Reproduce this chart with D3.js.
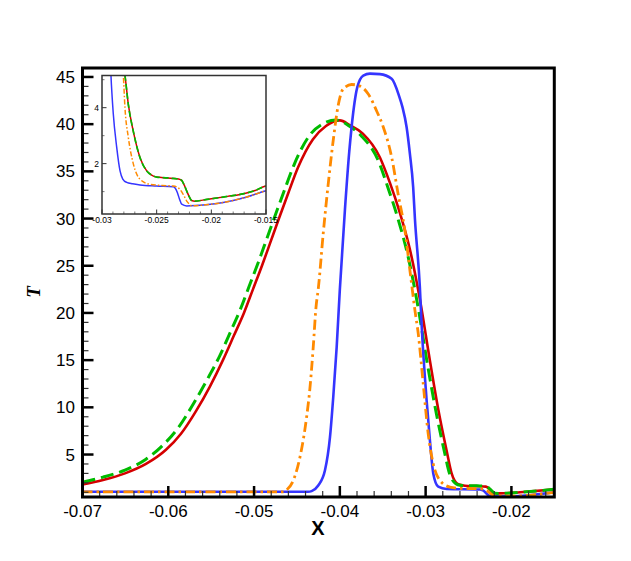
<!DOCTYPE html>
<html><head><meta charset="utf-8">
<script src="https://cdn.jsdelivr.net/npm/d3@7"></script>
<style>body{margin:0;background:#fff}</style></head>
<body><svg id="c" width="631" height="561"></svg>
<script>
// ---------- main plot data ----------
const redX = [-0.07,-0.06761,-0.06505,-0.0626,-0.06027,-0.05852,-0.05677,-0.05515,-0.05363,-0.05235,-0.05118,-0.05013,-0.04908,-0.04809,-0.0471,-0.04605,-0.04488,-0.04313,-0.04162,-0.04,-0.03883,-0.03732,-0.03534,-0.03417,-0.033,-0.03185,-0.03068,-0.02951,-0.02853,-0.02755,-0.02697,-0.0262,-0.02542,-0.02405,-0.02297,-0.0225,-0.02204,-0.02134,-0.019,-0.015];
const redT = [1.83,2.3,3.0,4.0,5.5,7.2,9.6,12.2,15.0,17.6,20.0,22.5,25.0,27.5,30.0,32.6,35.4,38.4,39.8,40.4,39.9,39.0,36.5,33.8,30.6,26.8,21.5,15.0,9.8,5.4,3.0,1.85,1.7,1.65,1.6,1.3,0.9,0.88,1.0,1.32];

const greenX = [-0.07,-0.06761,-0.06505,-0.0626,-0.06062,-0.05887,-0.05712,-0.05555,-0.05403,-0.05275,-0.05159,-0.05054,-0.04949,-0.0485,-0.04751,-0.04646,-0.04529,-0.04354,-0.04185,-0.04045,-0.03906,-0.03754,-0.03555,-0.0344,-0.03323,-0.03205,-0.03088,-0.02972,-0.02874,-0.02781,-0.02722,-0.02647,-0.02601,-0.02405,-0.0229,-0.02245,-0.02192,-0.02134,-0.019,-0.015];
const greenT = [2.07,2.6,3.35,4.5,6.0,7.8,10.3,12.8,15.4,18.0,20.4,22.9,25.4,27.9,30.4,33.0,35.8,38.8,40.1,40.45,39.9,38.8,36.2,33.3,30.0,26.0,20.6,14.2,9.3,5.3,3.0,1.9,1.75,1.68,1.62,1.3,0.9,0.88,1.0,1.32];

const blueX = [-0.07,-0.0437,-0.04329,-0.04252,-0.04174,-0.04115,-0.04077,-0.04037,-0.04,-0.03941,-0.03891,-0.03863,-0.03797,-0.03727,-0.03649,-0.03533,-0.03396,-0.0331,-0.0327,-0.03222,-0.03184,-0.03145,-0.03125,-0.03067,-0.03047,-0.02988,-0.0295,-0.02911,-0.02853,-0.02755,-0.02366,-0.02332,-0.0225,-0.02134,-0.01959,-0.015];
const blueT = [1.05,1.05,1.12,1.72,3.3,6.84,11.07,16.37,22.5,30.9,37.0,39.7,43.9,45.15,45.35,45.3,44.8,43.0,41.8,39.7,36.9,33.3,30.0,22.7,18.8,10.7,6.5,3.0,1.6,1.35,1.3,1.2,0.6,0.55,0.58,1.0];

const orangeX = [-0.07,-0.0466,-0.0462,-0.04543,-0.04465,-0.04387,-0.04349,-0.0431,-0.04278,-0.04252,-0.04194,-0.04135,-0.04077,-0.04019,-0.0396,-0.03863,-0.03786,-0.03669,-0.03571,-0.03494,-0.03396,-0.03319,-0.03241,-0.03183,-0.03125,-0.03086,-0.03028,-0.0297,-0.02911,-0.02833,-0.02717,-0.026,-0.02366,-0.02289,-0.02227,-0.0218,-0.0196,-0.015];
const orangeT = [1.05,1.05,1.25,2.25,4.72,9.0,12.0,16.4,20.6,22.5,28.4,33.7,38.3,42.0,43.75,44.2,44.1,43.2,41.4,39.7,36.5,32.5,28.7,24.5,20.3,17.8,12.5,7.2,4.0,2.25,1.55,1.42,1.38,1.2,0.75,0.6,0.6,1.0];

// ---------- inset data ----------
const insRedX = [-0.0282,-0.0279,-0.02759,-0.02714,-0.02652,-0.02591,-0.0255,-0.025,-0.024,-0.02348,-0.023,-0.02271,-0.0225,-0.02225,-0.022,-0.0218,-0.0215,-0.02042,-0.0185,-0.01738,-0.016,-0.01509,-0.015];
const insRedT = [5.8,5.15,4.11,3.16,2.21,1.74,1.6,1.52,1.49,1.47,1.45,1.40,1.25,1.02,0.8,0.68,0.66,0.72,0.83,0.90,1.04,1.19,1.2];
const insGreenX = [-0.0282,-0.0279,-0.02759,-0.02714,-0.02652,-0.02591,-0.0255,-0.025,-0.024,-0.02348,-0.023,-0.02271,-0.0225,-0.02225,-0.022,-0.0218,-0.0215,-0.02042,-0.0185,-0.01738,-0.016,-0.01509,-0.015];
const insGreenT = [5.8,5.15,4.11,3.16,2.21,1.74,1.6,1.52,1.49,1.47,1.45,1.40,1.25,1.02,0.8,0.68,0.66,0.72,0.83,0.90,1.04,1.19,1.2];
const insBlueX = [-0.02925,-0.02918,-0.02897,-0.02866,-0.02835,-0.0281,-0.02774,-0.0272,-0.02652,-0.025,-0.02348,-0.0233,-0.02311,-0.0229,-0.02271,-0.02225,-0.0205,-0.01891,-0.017,-0.01509,-0.015];
const insBlueT = [5.8,5.15,3.79,2.6,1.74,1.45,1.33,1.28,1.24,1.2,1.17,1.12,0.97,0.72,0.55,0.49,0.53,0.61,0.78,1.02,1.03];
const insOrangeX = [-0.0282,-0.02805,-0.0279,-0.02759,-0.02714,-0.02652,-0.02561,-0.0245,-0.02348,-0.0231,-0.02287,-0.0225,-0.02225,-0.022,-0.0218,-0.0205,-0.01891,-0.017,-0.01509,-0.015];
const insOrangeT = [5.8,5.15,4.0,2.93,2.0,1.44,1.26,1.22,1.2,1.15,1.08,0.85,0.66,0.55,0.49,0.53,0.61,0.78,1.02,1.03];

// ---------- ticks ----------
const xTicks = [-0.07,-0.06,-0.05,-0.04,-0.03,-0.02];
const xTickLabels = ["-0.07","-0.06","-0.05","-0.04","-0.03","-0.02"];
const yTicks = [5,10,15,20,25,30,35,40,45];
const insXTicks = [-0.03,-0.025,-0.02,-0.015];
const insXTickLabels = ["-0.03","-0.025","-0.02","-0.015"];
const insYTicks = [2,4];

const COL = {blue:"#3535ff", orange:"#ff8a00", red:"#d40000", green:"#00bb00"};

const svg = d3.select("#c");
const M = {l:82.5, r:554.3, t:68, b:497};
const x = d3.scaleLinear().domain([-0.07,-0.015]).range([M.l,M.r]);
const y = d3.scaleLinear().domain([0.5,45.95]).range([M.b,M.t]);

svg.append("clipPath").attr("id","mclip").append("rect")
  .attr("x",M.l).attr("y",M.t).attr("width",M.r-M.l).attr("height",M.b-M.t);

const zip = (a,b)=>a.map((v,i)=>[v,b[i]]);
const mline = d3.line().x(d=>x(d[0])).y(d=>y(d[1])).curve(d3.curveMonotoneX);

const series = [
  {X:redX,T:redT,c:COL.red,w:2.6,dash:null},
  {X:greenX,T:greenT,c:COL.green,w:3,dash:"13,6"},
  {X:blueX,T:blueT,c:COL.blue,w:2.6,dash:null},
  {X:orangeX,T:orangeT,c:COL.orange,w:2.8,dash:"10,4,2.5,4"}
];
const gM = svg.append("g").attr("clip-path","url(#mclip)");
series.forEach(s=>{
  gM.append("path").attr("d",mline(zip(s.X,s.T))).attr("fill","none")
    .attr("stroke",s.c).attr("stroke-width",s.w).attr("stroke-dasharray",s.dash)
    .attr("stroke-linejoin","round");
});

// minor ticks
const xMinor = d3.range(-0.07,-0.0149,0.002).filter(v=>!xTicks.some(t=>Math.abs(t-v)<1e-6));
const yMinor = d3.range(1,46,1).filter(v=>v%5!==0);
svg.append("g").selectAll("line").data(xMinor).join("line")
  .attr("x1",d=>x(d)).attr("x2",d=>x(d)).attr("y1",M.b).attr("y2",M.b-6)
  .attr("stroke","#333").attr("stroke-width",1.2);
svg.append("g").selectAll("line").data(yMinor).join("line")
  .attr("y1",d=>y(d)).attr("y2",d=>y(d)).attr("x1",M.l).attr("x2",M.l+6)
  .attr("stroke","#333").attr("stroke-width",1.2);
// major ticks
svg.append("g").selectAll("line").data(xTicks).join("line")
  .attr("x1",d=>x(d)).attr("x2",d=>x(d)).attr("y1",M.b).attr("y2",M.b-11)
  .attr("stroke","#000").attr("stroke-width",2.5);
svg.append("g").selectAll("line").data(yTicks).join("line")
  .attr("y1",d=>y(d)).attr("y2",d=>y(d)).attr("x1",M.l).attr("x2",M.l+11)
  .attr("stroke","#000").attr("stroke-width",2.5);

// frame
svg.append("rect").attr("x",M.l).attr("y",M.t).attr("width",M.r-M.l).attr("height",M.b-M.t)
  .attr("fill","none").attr("stroke","#000").attr("stroke-width",3);

// tick labels
const font = "Liberation Sans, Arial, Helvetica, sans-serif";
svg.append("g").selectAll("text").data(xTicks).join("text")
  .attr("x",d=>x(d)).attr("y",517).attr("text-anchor","middle")
  .attr("font-family",font).attr("font-size",17).text((d,i)=>xTickLabels[i]);
svg.append("g").selectAll("text").data(yTicks).join("text")
  .attr("x",75).attr("y",d=>y(d)+6).attr("text-anchor","end")
  .attr("font-family",font).attr("font-size",17).text(d=>d);

// axis titles
svg.append("text").attr("x",318).attr("y",535).attr("text-anchor","middle")
  .attr("font-family",font).attr("font-weight","bold").attr("font-size",20).text("X");
svg.append("text").attr("transform","translate(40,292) rotate(-90)").attr("text-anchor","middle")
  .attr("font-family","Liberation Serif, Times New Roman, serif").attr("font-weight","bold")
  .attr("font-style","italic").attr("font-size",19).text("T");

// ---------- inset ----------
const I = {l:102, r:266, t:75.5, b:214};
const xi = d3.scaleLinear().domain([-0.03,-0.015]).range([I.l,I.r]);
const yi = d3.scaleLinear().domain([0.2,5.15]).range([I.b,I.t]);
svg.append("rect").attr("x",I.l).attr("y",I.t).attr("width",I.r-I.l).attr("height",I.b-I.t).attr("fill","#fff");
svg.append("clipPath").attr("id","iclip").append("rect")
  .attr("x",I.l).attr("y",I.t).attr("width",I.r-I.l).attr("height",I.b-I.t);
const iline = d3.line().x(d=>xi(d[0])).y(d=>yi(d[1])).curve(d3.curveMonotoneX);
const iseries = [
  {X:insRedX,T:insRedT,c:COL.red,w:1.5,dash:null},
  {X:insGreenX,T:insGreenT,c:COL.green,w:1.7,dash:"6,3"},
  {X:insBlueX,T:insBlueT,c:COL.blue,w:1.5,dash:null},
  {X:insOrangeX,T:insOrangeT,c:COL.orange,w:1.5,dash:"5,2,1.5,2"}
];
const gI = svg.append("g").attr("clip-path","url(#iclip)");
iseries.forEach(s=>{
  gI.append("path").attr("d",iline(zip(s.X,s.T))).attr("fill","none")
    .attr("stroke",s.c).attr("stroke-width",s.w).attr("stroke-dasharray",s.dash);
});
const insXMinor = d3.range(-0.03,-0.0149,0.001).filter(v=>!insXTicks.some(t=>Math.abs(t-v)<1e-6));
const insYMinor = [1,3,5];
svg.append("g").selectAll("line").data(insXMinor).join("line")
  .attr("x1",d=>xi(d)).attr("x2",d=>xi(d)).attr("y1",I.b).attr("y2",I.b-2.5)
  .attr("stroke","#555").attr("stroke-width",0.8);
svg.append("g").selectAll("line").data(insXTicks).join("line")
  .attr("x1",d=>xi(d)).attr("x2",d=>xi(d)).attr("y1",I.b).attr("y2",I.b-4.5)
  .attr("stroke","#333").attr("stroke-width",1);
svg.append("g").selectAll("line").data(insYMinor).join("line")
  .attr("y1",d=>yi(d)).attr("y2",d=>yi(d)).attr("x1",I.l).attr("x2",I.l+2.5)
  .attr("stroke","#555").attr("stroke-width",0.8);
svg.append("g").selectAll("line").data(insYTicks).join("line")
  .attr("y1",d=>yi(d)).attr("y2",d=>yi(d)).attr("x1",I.l).attr("x2",I.l+4.5)
  .attr("stroke","#333").attr("stroke-width",1);
svg.append("rect").attr("x",I.l).attr("y",I.t).attr("width",I.r-I.l).attr("height",I.b-I.t)
  .attr("fill","none").attr("stroke","#333").attr("stroke-width",1.5);
svg.append("g").selectAll("text").data(insXTicks).join("text")
  .attr("x",d=>xi(d)).attr("y",I.b+8.5).attr("text-anchor","middle")
  .attr("font-family",font).attr("font-size",8.5).text((d,i)=>insXTickLabels[i]);
svg.append("g").selectAll("text").data(insYTicks).join("text")
  .attr("x",I.l-3).attr("y",d=>yi(d)+3).attr("text-anchor","end")
  .attr("font-family",font).attr("font-size",8.5).text(d=>d);
</script>
</body></html>
